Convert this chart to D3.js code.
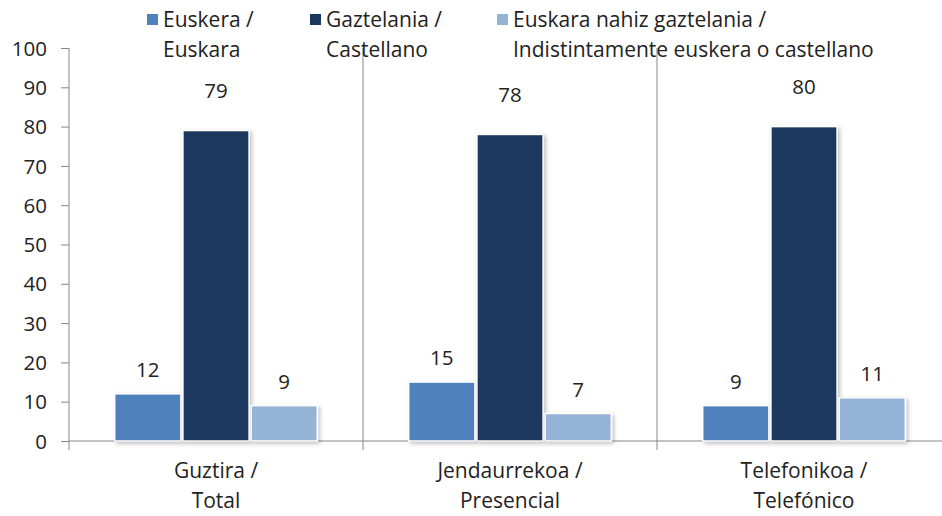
<!DOCTYPE html>
<html><head><meta charset="utf-8">
<script src="https://cdn.jsdelivr.net/npm/d3@7"></script>
<style>body{margin:0;background:#fff}svg{display:block}text{font-family:"Open Sans",Lato,sans-serif;fill:#222}</style>
</head><body><svg id="c" width="942" height="516"></svg>
<script>
const categories = [["Guztira /","Total"],["Jendaurrekoa /","Presencial"],["Telefonikoa /","Telefónico"]];
const seriesNames = [["Euskera /","Euskara"],["Gaztelania /","Castellano"],["Euskara nahiz gaztelania /","Indistintamente euskera o castellano"]];
const euskera = [12, 15, 9];
const gaztelania = [79, 78, 80];
const biak = [9, 7, 11];
const yTicks = [0,10,20,30,40,50,60,70,80,90,100];
const colors = ["#4F81BD","#1B375E","#95B3D7"];
const series = [euskera, gaztelania, biak];

const svg = d3.select("#c");
const defs = svg.append("defs");
const f = defs.append("filter").attr("id","sh").attr("x","-20%").attr("y","-20%").attr("width","140%").attr("height","140%");
f.append("feDropShadow").attr("dx",2).attr("dy",2).attr("stdDeviation",2).attr("flood-color","#000").attr("flood-opacity",0.25);

const x0 = 69, x1 = 951, yTop = 48, yBot = 441;
const y = d3.scaleLinear().domain([0,100]).range([yBot, yTop]);
const xc = d3.scaleBand().domain(d3.range(categories.length)).range([x0, x1]).paddingInner(0).paddingOuter(0);
const xs = d3.scaleBand().domain(d3.range(series.length)).range([0, xc.bandwidth()]).paddingInner(0.03).paddingOuter(0.67);

// y axis
const yAxis = d3.axisLeft(y).tickValues(yTicks).tickSize(8).tickPadding(14);
const ga = svg.append("g").attr("transform",`translate(${x0},0)`).call(yAxis);
ga.select(".domain").remove();
ga.selectAll(".tick line").attr("stroke","#868686");
ga.selectAll(".tick text").style("font-size","20.5px").style("font-family","'Open Sans',sans-serif").attr("fill","#222").attr("dy","0.35em");

// vertical lines (axis + separators)
const vx = d3.range(categories.length).map(i => xc(i));
svg.selectAll(".vl").data(vx).enter().append("line")
  .attr("x1",d=>d).attr("x2",d=>d).attr("y1",yTop).attr("y2",yBot+9)
  .attr("stroke","#868686").attr("stroke-width",1);
// x axis
svg.append("line").attr("x1",x0).attr("x2",942).attr("y1",yBot).attr("y2",yBot).attr("stroke","#868686");

// bars
series.forEach((vals, s) => {
  const g = svg.append("g");
  g.selectAll("rect").data(vals).enter().append("rect")
    .attr("x",(d,i)=>xc(i)+xs(s)).attr("width",xs.bandwidth())
    .attr("y",d=>y(d)).attr("height",d=>yBot-y(d))
    .attr("fill",colors[s]).attr("stroke","#fff").attr("stroke-width",1.5)
    .attr("filter","url(#sh)");
  g.selectAll("text").data(vals).enter().append("text")
    .attr("x",(d,i)=>xc(i)+xs(s)+xs.bandwidth()/2)
    .attr("y",d=>y(d) - (d>50 ? 40 : 24))
    .attr("dy","0.35em").attr("text-anchor","middle").style("font-size","20.5px").text(d=>d);
});

// category labels
categories.forEach((c,i)=>{
  const cx = xc(i)+xc.bandwidth()/2;
  c.forEach((t,j)=>svg.append("text").attr("x",cx).attr("y",471+j*30).attr("dy","0.35em")
    .attr("text-anchor","middle").style("font-size","21px").text(t));
});

// legend
const legX = [147, 310, 497];
seriesNames.forEach((n,i)=>{
  svg.append("rect").attr("x",legX[i]).attr("y",14).attr("width",11).attr("height",11).attr("fill",colors[i]);
  n.forEach((t,j)=>svg.append("text").attr("x",legX[i]+16).attr("y",20+j*30).attr("dy","0.35em")
    .style("font-size","21px").text(t));
});
</script></body></html>
